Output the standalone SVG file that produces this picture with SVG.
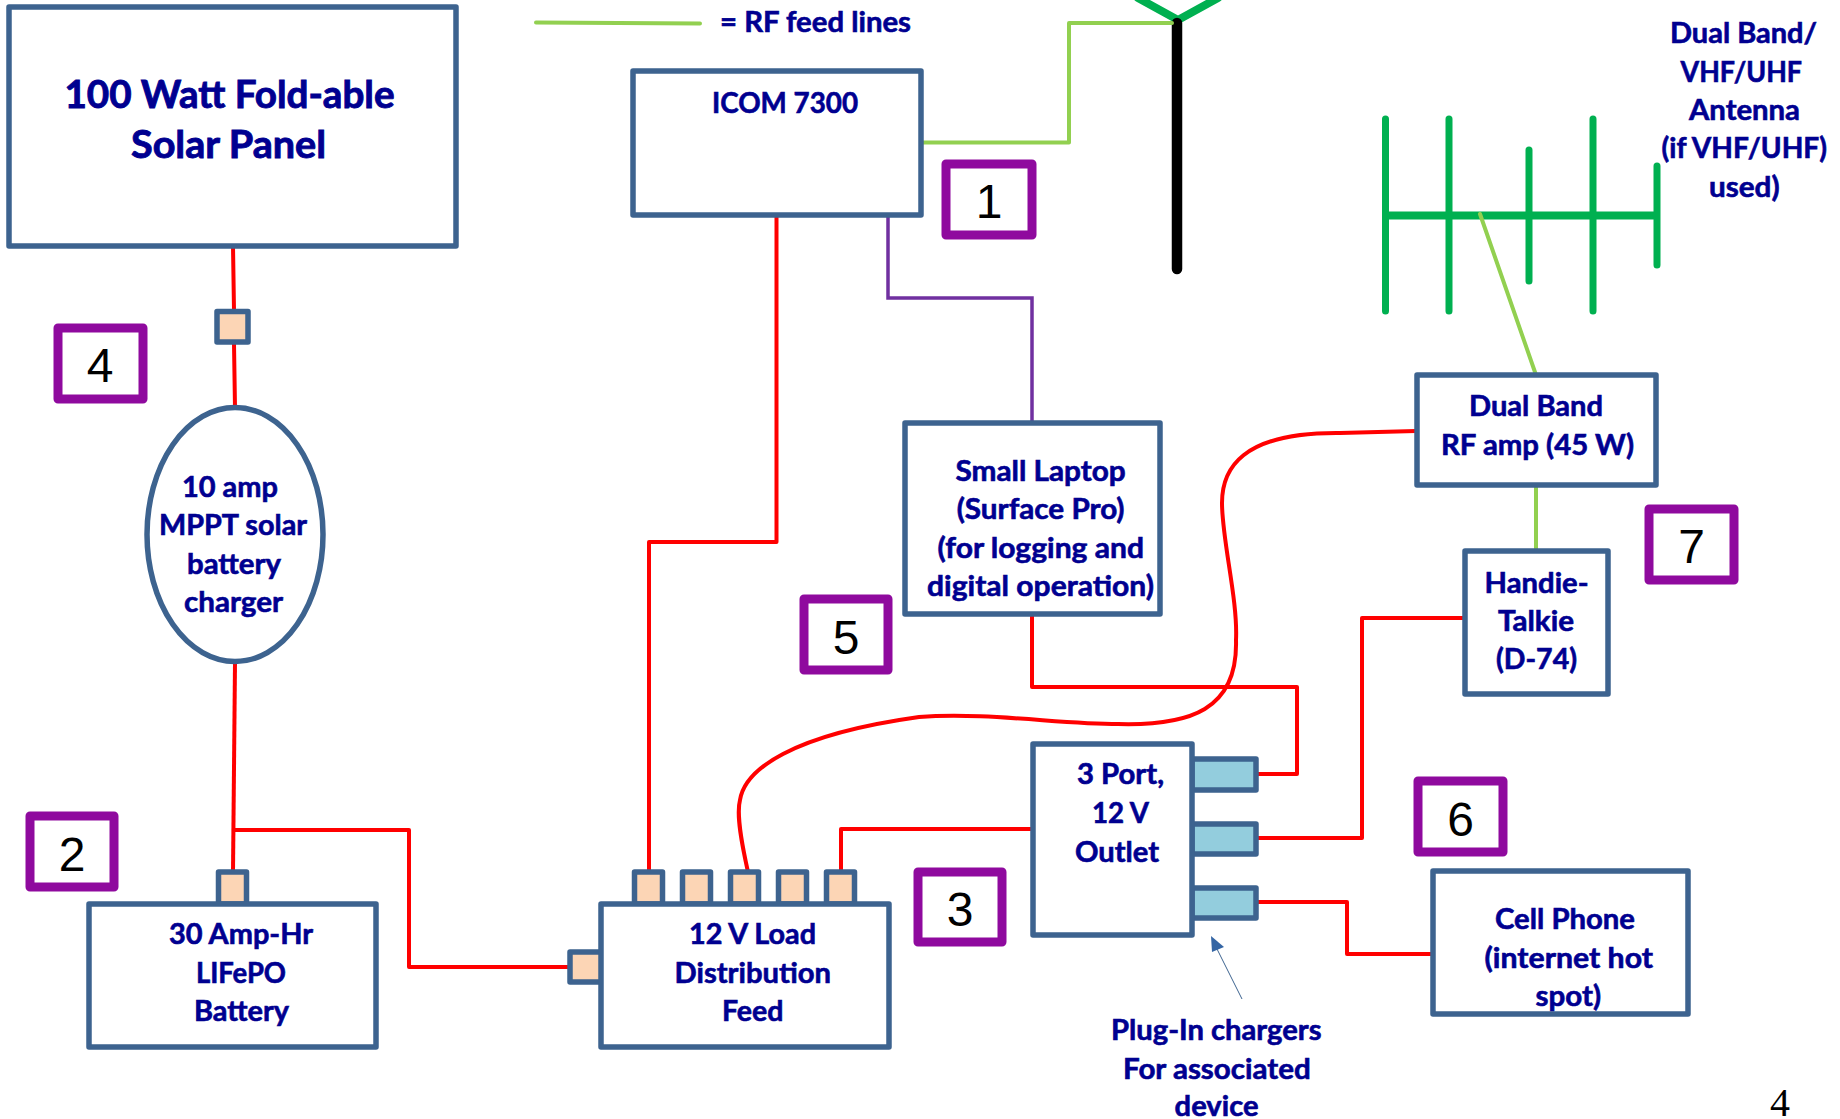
<svg xmlns="http://www.w3.org/2000/svg" width="1840" height="1119" viewBox="0 0 1840 1119">
<style>
.box{fill:#fff;stroke:#3d638f;stroke-width:5.5;stroke-linejoin:round}
.term{fill:#fcd5b5;stroke:#3d638f;stroke-width:5.5;stroke-linejoin:round}
.plug{fill:#93cddd;stroke:#3d638f;stroke-width:5.5;stroke-linejoin:round}
.badge{fill:#fff;stroke:#8f0a9e;stroke-width:9;stroke-linejoin:round}
.red{fill:none;stroke:#f00;stroke-width:4;stroke-linejoin:round}
.rf{fill:none;stroke:#92d050;stroke-width:4;stroke-linecap:round;stroke-linejoin:round}
.purple{fill:none;stroke:#7030a0;stroke-width:3.5}
.yagi{fill:none;stroke:#00b050;stroke-width:7;stroke-linecap:round}
text{font-family:"Lato","Liberation Sans",sans-serif;font-weight:700;font-size:28px;fill:#000090;stroke:#000090;stroke-width:.6}
.big{font-size:38px;stroke-width:.9}
.lbl{transform:translateY(1px)}
.num{font-family:"Liberation Sans",Arial,sans-serif;font-weight:400;font-size:48px;fill:#000;stroke:none;text-anchor:middle}
.pg{font-family:"Liberation Serif","Times New Roman",serif;font-weight:400;font-size:40px;fill:#000;stroke:none}
</style>
<rect width="1840" height="1119" fill="#fff"/>
<g id="antennas">
<path class="yagi" style="stroke-width:8" d="M1178 20L1138 -2M1178 20L1218 -2"/>
<path d="M1177 23V269" fill="none" stroke="#000" stroke-width="10.500" stroke-linecap="round"/>
<path class="yagi" d="M1385.500 119V311M1449 119V311M1529 150V281M1593 119V311M1657 166V265"/>
<path class="yagi" style="stroke-width:8;stroke-linecap:butt" d="M1383 215.500H1660"/>
</g>
<g id="connectors">
<path class="rf" d="M536 22.500L700 23.500"/>
<path class="rf" d="M922 142.500H1069V23H1172"/>
<path class="rf" d="M1480 214L1536 375"/>
<path class="rf" d="M1536 487V549"/>
<path class="purple" d="M888 217V298H1032V421"/>
<path class="red" d="M233 246L234 310M234 344L235 408"/>
<path class="red" d="M235 663L233 872"/>
<path class="red" d="M233 830H409V967H570"/>
<path class="red" d="M776.500 215V542H649V872"/>
<path class="red" d="M1032 616V687H1297V774H1257"/>
<path class="red" d="M1464 618H1362V838H1257"/>
<path class="red" d="M1257 902H1347V954H1432"/>
<path class="red" d="M1032 829H841V872"/>
<path class="red" d="M748 872C742 845 736 815 740 800C745 770 790 735 919 717C985 712 1060 724 1118 724C1190 726 1238 710 1236 640C1238 600 1222 540 1222 503C1222 470 1240 432 1340 433L1416 431"/>
<path d="M1242 999L1215 945" fill="none" stroke="#3d638f" stroke-width="1"/>
<path d="M1211 936L1224 947L1212 952Z" fill="#3465a4"/>
</g>
<g id="solar-panel"><rect class="box" x="9" y="7" width="447" height="239"/><text class="big lbl" x="64.500" y="107" textLength="330" lengthAdjust="spacingAndGlyphs">100 Watt Fold-able</text><text class="big lbl" x="131" y="157" textLength="195" lengthAdjust="spacingAndGlyphs">Solar Panel</text></g>
<g id="solar-connector"><rect class="term" x="217" y="311.500" width="31" height="30.500"/></g>
<g id="charger"><ellipse class="box" cx="235" cy="534.500" rx="88" ry="127"/><text class="lbl" x="182" y="496" textLength="96" lengthAdjust="spacingAndGlyphs">10 amp</text><text class="lbl" x="159" y="534" textLength="148" lengthAdjust="spacingAndGlyphs">MPPT solar</text><text class="lbl" x="187" y="573" textLength="94" lengthAdjust="spacingAndGlyphs">battery</text><text class="lbl" x="184" y="611" textLength="99" lengthAdjust="spacingAndGlyphs">charger</text></g>
<g id="battery"><rect class="term" x="218.500" y="872" width="28" height="32"/><rect class="box" x="89" y="904" width="287" height="143"/><text class="lbl" x="169" y="943" textLength="144" lengthAdjust="spacingAndGlyphs">30 Amp-Hr</text><text class="lbl" x="196" y="982" textLength="90" lengthAdjust="spacingAndGlyphs">LIFePO</text><text class="lbl" x="194" y="1020" textLength="95" lengthAdjust="spacingAndGlyphs">Battery</text></g>
<g id="load-feed"><rect class="term" x="634.500" y="872" width="28" height="32"/><rect class="term" x="682.500" y="872" width="28" height="32"/><rect class="term" x="730.500" y="872" width="28" height="32"/><rect class="term" x="778.500" y="872" width="28" height="32"/><rect class="term" x="826.500" y="872" width="28" height="32"/><rect class="term" x="570" y="952" width="33" height="30"/><rect class="box" x="601" y="904" width="288" height="143"/><text class="lbl" x="689" y="943" textLength="127" lengthAdjust="spacingAndGlyphs">12 V Load</text><text class="lbl" x="674.500" y="982" textLength="156.500" lengthAdjust="spacingAndGlyphs">Distribution</text><text class="lbl" x="722" y="1020" textLength="61.500" lengthAdjust="spacingAndGlyphs">Feed</text></g>
<g id="icom"><rect class="box" x="633" y="71" width="288" height="144"/><text class="lbl" x="712" y="112" textLength="146" lengthAdjust="spacingAndGlyphs">ICOM 7300</text></g>
<g id="laptop"><rect class="box" x="905" y="423" width="255" height="191"/><text class="lbl" x="955.400" y="480" textLength="170.400" lengthAdjust="spacingAndGlyphs">Small Laptop</text><text class="lbl" x="956.700" y="518" textLength="167.800" lengthAdjust="spacingAndGlyphs">(Surface Pro)</text><text class="lbl" x="937.500" y="557" textLength="206.500" lengthAdjust="spacingAndGlyphs">(for logging and</text><text class="lbl" x="927" y="595" textLength="227" lengthAdjust="spacingAndGlyphs">digital operation)</text></g>
<g id="outlet"><rect class="plug" x="1192" y="759" width="64" height="31"/><rect class="plug" x="1192" y="824" width="64" height="30"/><rect class="plug" x="1192" y="888" width="64" height="30"/><rect class="box" x="1033" y="744" width="159" height="191"/><text class="lbl" x="1077" y="783" textLength="87" lengthAdjust="spacingAndGlyphs">3 Port,</text><text class="lbl" x="1092" y="822" textLength="57" lengthAdjust="spacingAndGlyphs">12 V</text><text class="lbl" x="1075" y="861" textLength="84" lengthAdjust="spacingAndGlyphs">Outlet</text></g>
<g id="rf-amp"><rect class="box" x="1417" y="375" width="239" height="110"/><text class="lbl" x="1469" y="415" textLength="134" lengthAdjust="spacingAndGlyphs">Dual Band</text><text class="lbl" x="1441" y="454" textLength="193" lengthAdjust="spacingAndGlyphs">RF amp (45 W)</text></g>
<g id="handie-talkie"><rect class="box" x="1465" y="551" width="143" height="143"/><text class="lbl" x="1484.600" y="592" textLength="104" lengthAdjust="spacingAndGlyphs">Handie-</text><text class="lbl" x="1498" y="630" textLength="76" lengthAdjust="spacingAndGlyphs">Talkie</text><text class="lbl" x="1496" y="668" textLength="81" lengthAdjust="spacingAndGlyphs">(D-74)</text></g>
<g id="cell-phone"><rect class="box" x="1433" y="871" width="255" height="143"/><text class="lbl" x="1495" y="928" textLength="140" lengthAdjust="spacingAndGlyphs">Cell Phone</text><text class="lbl" x="1484.500" y="967" textLength="168.500" lengthAdjust="spacingAndGlyphs">(internet hot</text><text class="lbl" x="1535.500" y="1005" textLength="65.500" lengthAdjust="spacingAndGlyphs">spot)</text></g>
<g id="legend"><text x="720" y="32" textLength="191" lengthAdjust="spacingAndGlyphs">= RF feed lines</text></g>
<g id="antenna-label"><text class="lbl" x="1670" y="42" textLength="147" lengthAdjust="spacingAndGlyphs">Dual Band/</text><text class="lbl" x="1680.500" y="81" textLength="121.500" lengthAdjust="spacingAndGlyphs">VHF/UHF</text><text class="lbl" x="1689" y="119" textLength="111" lengthAdjust="spacingAndGlyphs">Antenna</text><text class="lbl" x="1661.600" y="157" textLength="165.400" lengthAdjust="spacingAndGlyphs">(if VHF/UHF)</text><text class="lbl" x="1709" y="196" textLength="70.600" lengthAdjust="spacingAndGlyphs">used)</text></g>
<g id="charger-label"><text class="lbl" x="1111" y="1039" textLength="210.500" lengthAdjust="spacingAndGlyphs">Plug-In chargers</text><text class="lbl" x="1123" y="1078" textLength="187.700" lengthAdjust="spacingAndGlyphs">For associated</text><text class="lbl" x="1174.600" y="1115" textLength="83.900" lengthAdjust="spacingAndGlyphs">device</text></g>
<g id="badge-1"><rect class="badge" x="946" y="164" width="86" height="71"/><text class="num" x="989" y="218">1</text></g>
<g id="badge-2"><rect class="badge" x="30" y="816" width="84" height="71"/><text class="num" x="72" y="871">2</text></g>
<g id="badge-3"><rect class="badge" x="918" y="872" width="84" height="70"/><text class="num" x="960" y="926">3</text></g>
<g id="badge-4"><rect class="badge" x="58" y="328" width="85" height="71"/><text class="num" x="100" y="382">4</text></g>
<g id="badge-5"><rect class="badge" x="804" y="599" width="84" height="71"/><text class="num" x="846" y="654">5</text></g>
<g id="badge-6"><rect class="badge" x="1418" y="781" width="85" height="71"/><text class="num" x="1460.500" y="836">6</text></g>
<g id="badge-7"><rect class="badge" x="1649" y="509" width="85" height="71"/><text class="num" x="1691.500" y="563">7</text></g>
<g id="page-number"><text class="pg" x="1770" y="1116">4</text></g>
</svg>
